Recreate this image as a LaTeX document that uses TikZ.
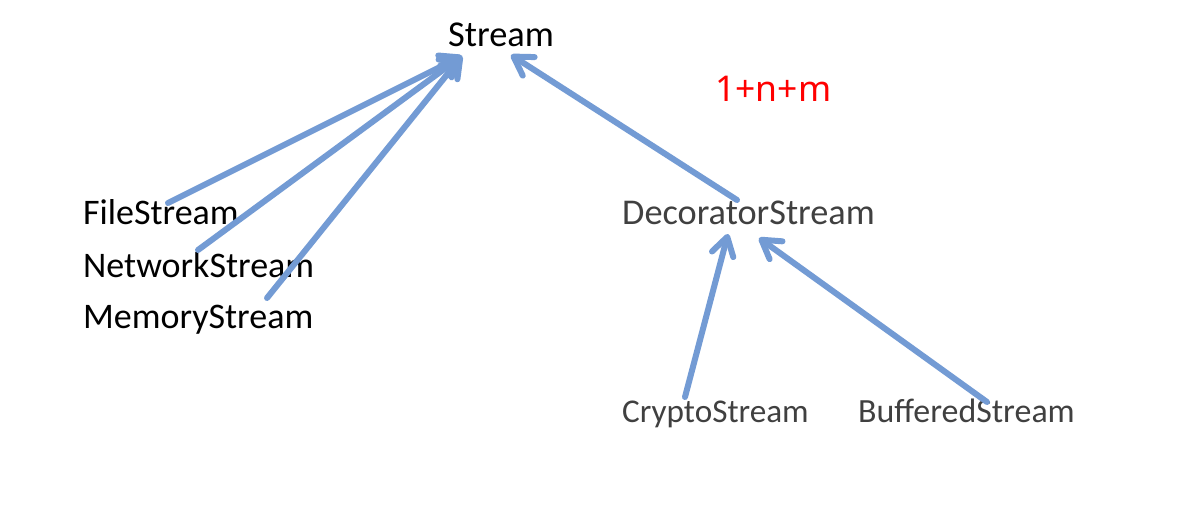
\documentclass[tikz,border=0pt]{standalone}
\usepackage{fontspec}
\setmainfont{Carlito}
\newfontfamily\numfont{Noto Sans}
\usetikzlibrary{arrows.meta}
\definecolor{arrblue}{RGB}{115,155,212}
\definecolor{darkgray}{RGB}{64,64,64}
\definecolor{redtxt}{RGB}{255,0,0}
\tikzset{
  lbl/.style={anchor=base west,inner sep=0pt,font=\fontsize{36}{40}\selectfont},
  lblgray/.style={anchor=base west,inner sep=0pt,text=darkgray},
  inherit/.style={draw=arrblue,line width=6pt,line cap=round,
    -{Straight Barb[length=18pt,width=22pt,line cap=round,line join=round]}}
}
\begin{document}
\begin{tikzpicture}[x=1pt,y=-1pt]
\useasboundingbox[fill=white] (0,0) rectangle (1193,532);
\node[lbl,font=\fontsize{36.4}{40}\selectfont] (stream) at (448,47) {Stream};
\node[lbl] (file) at (83,224) {FileStream};
\node[lbl] (net) at (83,277) {NetworkStream};
\node[lbl] (mem) at (83,328) {MemoryStream};
\node[lblgray,font=\fontsize{36.3}{40}\selectfont] (deco) at (622,224) {DecoratorStream};
\node[lblgray,font=\fontsize{33.2}{40}\selectfont] (crypto) at (622,422) {CryptoStream};
\node[lblgray,font=\fontsize{33.9}{40}\selectfont] (buf) at (858,422) {BufferedStream};
\node[anchor=base west,inner sep=0pt,font=\numfont\fontsize{35.5}{40}\selectfont,text=redtxt] (formula) at (715,102) {1+n+m};
% endpoints
\coordinate (sL) at (462,56);
\coordinate (sR) at (511,55);
\coordinate (fileT) at (168,203);
\coordinate (netT) at (198,250);
\coordinate (memT) at (267,298);
\coordinate (decoT) at (737,200);
\coordinate (decoL) at (728,234);
\coordinate (decoR) at (759,238);
\coordinate (cryptoT) at (685,397);
\coordinate (bufT) at (987,402);
\draw[inherit] (fileT) -- (sL);
\draw[inherit] (netT) -- (sL);
\draw[inherit] (memT) -- (sL);
\draw[inherit] (decoT) -- (sR);
\draw[inherit] (cryptoT) -- (decoL);
\draw[inherit] (bufT) -- (decoR);
\end{tikzpicture}
\end{document}
